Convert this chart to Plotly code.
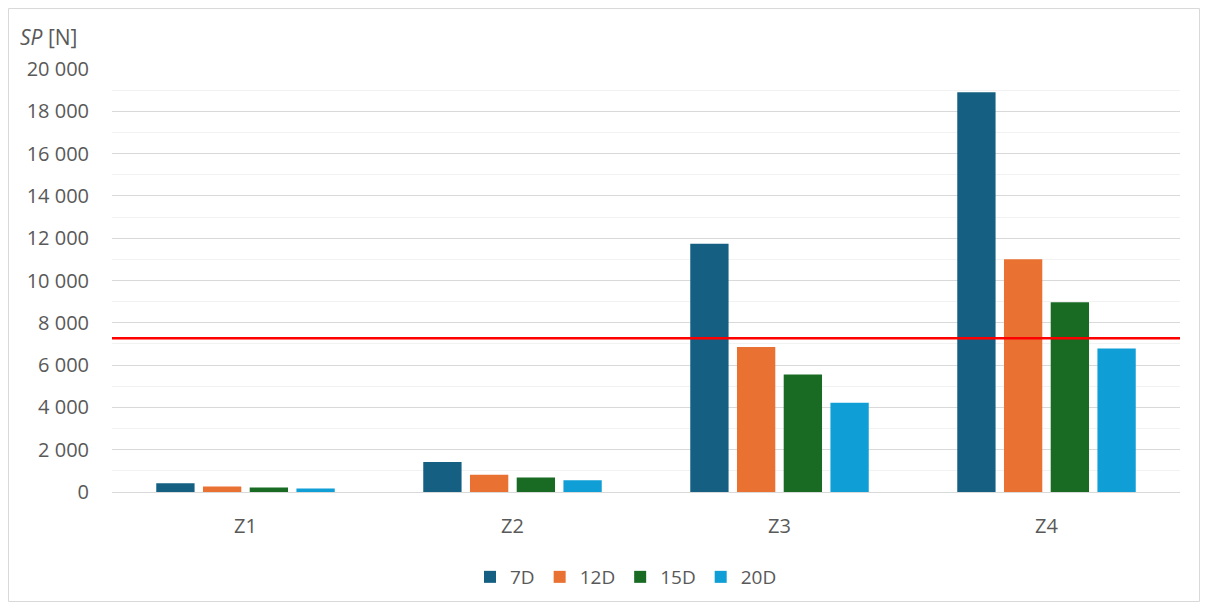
import plotly.graph_objects as go

categories = ["Z1", "Z2", "Z3", "Z4"]
series_names = ["7D", "12D", "15D", "20D"]
values_7d = [410, 1420, 11740, 18900]
values_12d = [255, 820, 6860, 11000]
values_15d = [210, 680, 5550, 8970]
values_20d = [160, 550, 4220, 6790]
threshold = 7270
colors = ["#156082", "#E97132", "#196B24", "#0F9ED5"]

all_values = [values_7d, values_12d, values_15d, values_20d]

FONT = "Open Sans"
GRAY = "#595959"
OFF = 8  # page body margin

fig = go.Figure()
for name, vals, col in zip(series_names, all_values, colors):
    fig.add_trace(go.Bar(x=categories, y=vals, name=name, marker=dict(color=col, line=dict(width=0))))

fig.add_hline(y=threshold, line=dict(color="#FF0000", width=2.5), layer="above")

W, H = 1208 - OFF, 610 - OFF
L, R, T, B = 112 - OFF, 28, 69 - OFF, 118
pw, ph = W - L - R, H - T - B


def px_x(p):
    return (p - OFF - L) / pw


def px_y(p):
    return (T + ph - (p - OFF)) / ph


fig.add_shape(type="rect", xref="paper", yref="paper",
              x0=px_x(8.5), x1=px_x(1199.5), y0=px_y(601.5), y1=px_y(8.5),
              line=dict(color="#D9D9D9", width=1), fillcolor="rgba(0,0,0,0)", layer="below")

fig.add_annotation(xref="paper", yref="paper", x=px_x(18), y=px_y(37),
                   xanchor="left", yanchor="middle", showarrow=False,
                   text="<i>SP</i> [N]", font=dict(family=FONT, size=21, color=GRAY))

fig.update_layout(
    width=W, height=H,
    margin=dict(l=L, r=R, t=T, b=B),
    paper_bgcolor="white", plot_bgcolor="white",
    barmode="group", bargap=0.30, bargroupgap=0.18,
    separators=". ",
    font=dict(family=FONT, size=20, color=GRAY),
    showlegend=True,
    legend=dict(orientation="h", x=px_x(470), xanchor="left", y=px_y(577), yanchor="middle",
                font=dict(family=FONT, size=19, color=GRAY), traceorder="normal",
                itemwidth=30, tracegroupgap=0),
    xaxis=dict(showgrid=False, showline=True, linecolor="#D9D9D9", linewidth=1,
               ticks="", ticklabelstandoff=16, tickfont=dict(size=20, color=GRAY)),
    yaxis=dict(range=[0, 20000], dtick=2000, tickformat=",", showgrid=True,
               gridcolor="#D9D9D9", gridwidth=1, zeroline=False,
               ticks="", ticklabelstandoff=22,
               tickfont=dict(size=20, color=GRAY),
               minor=dict(dtick=1000, showgrid=True, gridcolor="#F2F2F2", gridwidth=1)),
)

fig.write_html("out.html")
